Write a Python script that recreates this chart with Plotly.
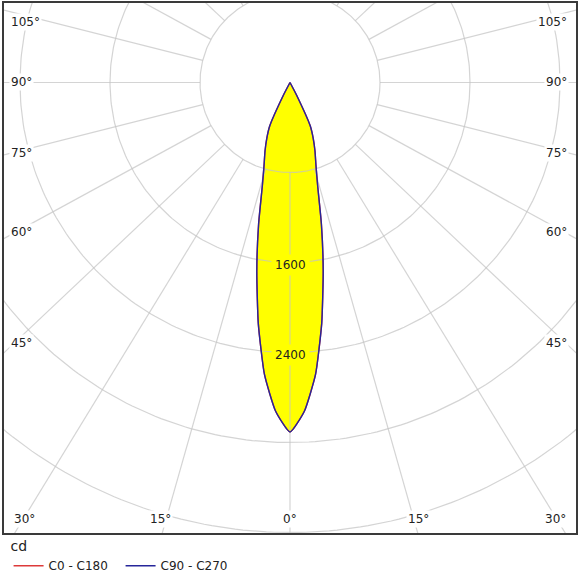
import numpy as np
import plotly.graph_objects as go

# ---- data (luminous intensity distribution, cd) ----
gamma_deg = [0, 2.5, 5, 7.5, 10, 12.5, 15, 17.5, 20, 22.5, 25, 27.5, 30,
             40, 50, 60, 70, 80, 90, 100, 110, 120, 130, 140, 150, 160, 170, 180]
cd_c0_c180 = [3107, 2925, 2605, 2160, 1700, 1290, 950, 766, 650, 540, 425, 130, 0,
              0, 0, 0, 0, 0, 0, 0, 0, 0, 0, 0, 0, 0, 0, 0]
cd_c90_c270 = [3107, 2925, 2605, 2160, 1700, 1290, 950, 766, 650, 540, 425, 130, 0,
               0, 0, 0, 0, 0, 0, 0, 0, 0, 0, 0, 0, 0, 0, 0]
series_names = ["C0 - C180", "C90 - C270"]

grid_cd = [800, 1600, 2400, 3200, 4000]
ring_label_cd = [1600, 2400]
radial_deg = list(range(-180, 181, 15))

left_labels = ["105°", "90°", "75°", "60°", "45°"]
bottom_labels = ["30°", "15°", "0°", "15°", "30°"]

# ---- layout constants ----
W = H = 580
ML, MR, MT, MB = 4, 4, 3, 47
PX = 0.1125                    # pixels per cd
CX, CY = 290, 82.5             # pixel position of the polar centre
K = 0.945                      # vertical squash of radial guide lines
FONT = "DejaVu Sans"


def polar_xy(gam, vals, sign=1):
    g = np.radians(np.asarray(gam, dtype=float))
    v = np.asarray(vals, dtype=float)
    return sign * v * np.sin(g), -v * np.cos(g)


def closed_curve(gam, vals):
    xr, yr = polar_xy(gam, vals, 1)
    xl, yl = polar_xy(gam[::-1], vals[::-1], -1)
    return np.concatenate([xr, xl]), np.concatenate([yr, yl])


x_range = [-(CX - ML) / PX, (W - MR - CX) / PX]
y_range = [-(H - MB - CY) / PX, (CY - MT) / PX]

fig = go.Figure()

# yellow fill
fx, fy = closed_curve(gamma_deg, cd_c90_c270)
fig.add_trace(go.Scatter(x=fx, y=fy, mode="lines", fill="toself",
                         fillcolor="#ffff00", line=dict(width=0, shape="spline", smoothing=0.5),
                         showlegend=False, hoverinfo="skip"))

# grid circles
gx, gy = [], []
t = np.radians(np.arange(0, 361, 1))
for r in grid_cd:
    gx += list(r * np.cos(t)) + [None]
    gy += list(r * np.sin(t)) + [None]
# radial lines (start at first ring)
for a in radial_deg:
    ar = np.radians(a)
    dx, dy = np.sin(ar), -K * np.cos(ar)
    n = np.hypot(dx, dy)
    dx, dy = dx / n, dy / n
    gx += [grid_cd[0] * dx, 9000 * dx, None]
    gy += [grid_cd[0] * dy, 9000 * dy, None]
fig.add_trace(go.Scatter(x=gx, y=gy, mode="lines",
                         line=dict(color="rgba(195,195,195,0.72)", width=1.2),
                         showlegend=False, hoverinfo="skip"))

# intensity curves
cx0, cy0 = closed_curve(gamma_deg, cd_c0_c180)
fig.add_trace(go.Scatter(x=cx0, y=cy0, mode="lines", name=series_names[0],
                         line=dict(color="#dd3a3a", width=1.4, shape="spline", smoothing=0.5)))
cx9, cy9 = closed_curve(gamma_deg, cd_c90_c270)
fig.add_trace(go.Scatter(x=cx9, y=cy9, mode="lines", name=series_names[1],
                         line=dict(color="#26269a", width=1.4, shape="spline", smoothing=0.5)))

annotations = []
for r in ring_label_cd:
    annotations.append(dict(x=0, y=-r, xref="x", yref="y", text=str(r),
                            showarrow=False, yshift=-2, bgcolor="#ffff00",
                            borderpad=3, font=dict(family=FONT, size=12, color="#222")))

left_y_px = [22, 82, 153, 232, 343]
for txt, py in zip(left_labels, left_y_px):
    yy = (CY - py) / PX
    annotations.append(dict(x=(9 - CX) / PX, y=yy, xref="x", yref="y", text=txt,
                            xanchor="left", showarrow=False, bgcolor="white",
                            borderpad=1, font=dict(family=FONT, size=12, color="#222")))
    annotations.append(dict(x=(W - 11 - CX) / PX, y=yy, xref="x", yref="y", text=txt,
                            xanchor="right", showarrow=False, bgcolor="white",
                            borderpad=1, font=dict(family=FONT, size=12, color="#222")))
bottom_x_px = [24, 160.5, 290, 418, 555]
for txt, px in zip(bottom_labels, bottom_x_px):
    annotations.append(dict(x=(px - CX) / PX, y=(CY - 519) / PX, xref="x", yref="y",
                            text=txt, showarrow=False, bgcolor="white", borderpad=1,
                            font=dict(family=FONT, size=12, color="#222")))

axis_common = dict(showgrid=False, zeroline=False, showticklabels=False, ticks="",
                   showline=True, mirror=True, linecolor="#3a3a3a", linewidth=1.5,
                   fixedrange=True)
fig.update_layout(
    width=W, height=H, autosize=False,
    margin=dict(l=ML, r=MR, t=MT, b=MB, autoexpand=False),
    paper_bgcolor="white", plot_bgcolor="white",
    xaxis=dict(range=x_range, **axis_common),
    yaxis=dict(range=y_range, **axis_common),
    annotations=annotations,
    showlegend=True,
    legend=dict(orientation="h", x=0.008, xanchor="left", y=0.0, yanchor="top",
                title=dict(text="cd", side="top", font=dict(family=FONT, size=14, color="#222")),
                font=dict(family=FONT, size=12, color="#222"),
                entrywidth=67, entrywidthmode="pixels",
                bgcolor="rgba(0,0,0,0)", borderwidth=0, tracegroupgap=0),
    font=dict(family=FONT),
)

fig.write_html("out.html", config={"displayModeBar": False},
               post_script="document.body.style.margin='0';document.body.style.padding='0';")
